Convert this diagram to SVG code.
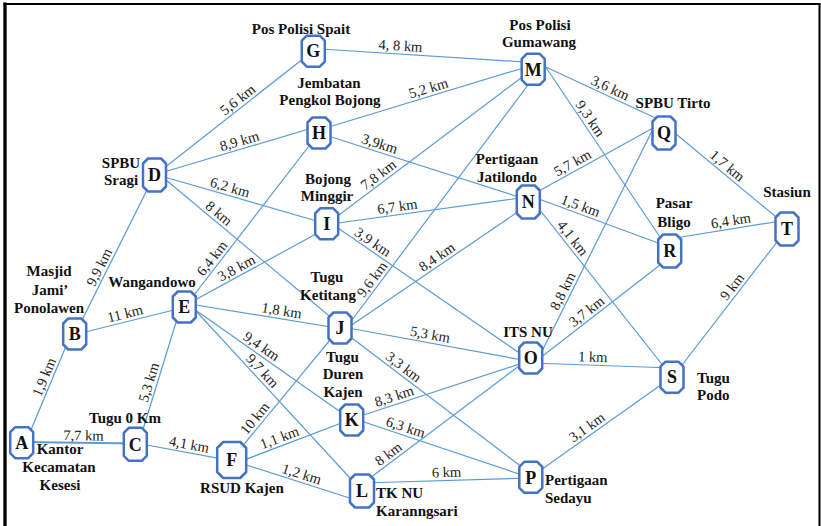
<svg xmlns="http://www.w3.org/2000/svg" width="821" height="526" viewBox="0 0 821 526">
<style>
.e{stroke:#5B9BD5;stroke-width:1.2;fill:none}
.nd{fill:#fff;stroke:#4472C4;stroke-width:2.5;stroke-linejoin:round}
.lt{font-family:"Liberation Serif",serif;font-weight:bold;font-size:18px;fill:#111;text-anchor:middle}
.nm{font-family:"Liberation Serif",serif;font-weight:bold;font-size:15px;fill:#111;text-anchor:middle}
.nl{font-family:"Liberation Serif",serif;font-weight:bold;font-size:15px;fill:#111;text-anchor:start}
.d{font-family:"Liberation Serif",serif;font-size:14.5px;fill:#222;text-anchor:middle}
</style>
<defs>
<polygon id="o1" points="-6.5,-15.5 6.5,-15.5 11.5,-10.5 11.5,10.5 6.5,15.5 -6.5,15.5 -11.5,10.5 -11.5,-10.5"/>
<polygon id="o2" points="-6.5,-16.5 6.5,-16.5 11.5,-11.5 11.5,11.5 6.5,16.5 -6.5,16.5 -11.5,11.5 -11.5,-11.5"/>
<polygon id="o3" points="-8.5,-18 8.5,-18 14.5,-12 14.5,12 8.5,18 -8.5,18 -14.5,12 -14.5,-12"/>
<polygon id="o4" points="-7,-16.5 7,-16.5 12,-11.5 12,11.5 7,16.5 -7,16.5 -12,11.5 -12,-11.5"/>
</defs>
<rect width="821" height="526" fill="#fff"/>
<g id="frame" stroke="#000" fill="none">
<line x1="5" y1="2.5" x2="5" y2="526" stroke-width="3.3"/>
<line x1="3.5" y1="4" x2="820.5" y2="4" stroke-width="2"/>
<line x1="819.5" y1="3" x2="819.5" y2="526" stroke-width="2"/>
</g>
<g id="connectors">
<line class="e" x1="28" y1="437" x2="69" y2="339"/>
<line class="e" x1="21" y1="442" x2="136" y2="443.5" style="stroke-width:2"/>
<line class="e" x1="75" y1="334" x2="154" y2="176"/>
<line class="e" x1="75" y1="334.5" x2="184" y2="307.5"/>
<line class="e" x1="138.5" y1="444" x2="180.4" y2="308"/>
<line class="e" x1="136" y1="443" x2="231" y2="460.7"/>
<line class="e" x1="154" y1="176" x2="313" y2="51"/>
<line class="e" x1="154" y1="175" x2="319" y2="126"/>
<line class="e" x1="154" y1="174" x2="327" y2="224"/>
<line class="e" x1="154" y1="170" x2="340" y2="325"/>
<line class="e" x1="184" y1="308" x2="319" y2="133"/>
<line class="e" x1="184" y1="306" x2="327" y2="228"/>
<line class="e" x1="184" y1="303" x2="340" y2="328.5"/>
<line class="e" x1="184" y1="302" x2="352" y2="420"/>
<line class="e" x1="184" y1="298" x2="362" y2="491"/>
<line class="e" x1="231" y1="460" x2="340" y2="328"/>
<line class="e" x1="231" y1="465" x2="352" y2="419"/>
<line class="e" x1="231" y1="460" x2="362" y2="502"/>
<line class="e" x1="313" y1="48.5" x2="533" y2="62.5"/>
<line class="e" x1="319" y1="130" x2="533" y2="65"/>
<line class="e" x1="319" y1="133" x2="528" y2="200"/>
<line class="e" x1="327" y1="224" x2="533" y2="69"/>
<line class="e" x1="327" y1="224.5" x2="528" y2="197"/>
<line class="e" x1="327" y1="220.5" x2="531" y2="361"/>
<line class="e" x1="346" y1="328" x2="534" y2="77"/>
<line class="e" x1="340" y1="333" x2="528" y2="205"/>
<line class="e" x1="340" y1="326.5" x2="531" y2="361.5"/>
<line class="e" x1="340" y1="329" x2="531" y2="474"/>
<line class="e" x1="352" y1="418.7" x2="531" y2="360.3"/>
<line class="e" x1="352" y1="418" x2="531" y2="478"/>
<line class="e" x1="362" y1="484" x2="531" y2="357"/>
<line class="e" x1="362" y1="483" x2="531" y2="478"/>
<line class="e" x1="533" y1="61" x2="664" y2="122"/>
<line class="e" x1="541" y1="60" x2="664" y2="243"/>
<line class="e" x1="528" y1="197" x2="664" y2="122"/>
<line class="e" x1="528" y1="195" x2="669" y2="247"/>
<line class="e" x1="528" y1="195" x2="672" y2="377"/>
<line class="e" x1="537.6" y1="360" x2="653.5" y2="128"/>
<line class="e" x1="531" y1="365" x2="669" y2="258"/>
<line class="e" x1="531" y1="363" x2="672" y2="368"/>
<line class="e" x1="531" y1="477" x2="672" y2="377"/>
<line class="e" x1="664" y1="124" x2="787" y2="226"/>
<line class="e" x1="669" y1="239" x2="787" y2="220"/>
<line class="e" x1="672" y1="378" x2="787" y2="229"/>
</g>
<g id="edge-labels">
<text class="d" transform="translate(51.7,380.2) rotate(-67.3)" y="-3.5">1,9 km</text>
<text class="d" transform="translate(83.3,442.8) rotate(0.75)" y="-2.5">7,7 km</text>
<text class="d" transform="translate(106.6,270.9) rotate(-63.4)" y="-3.5">9,9 km</text>
<text class="d" transform="translate(127.1,321.6) rotate(-13.9)" y="-3.5">11 km</text>
<text class="d" transform="translate(156.7,384.8) rotate(-72.9)" y="-3.5">5,3 km</text>
<text class="d" transform="translate(187.6,452.6) rotate(10.55)" y="-3.5">4,1 km</text>
<text class="d" transform="translate(242.8,106.2) rotate(-38.2)" y="-3.5">5,6 km</text>
<text class="d" transform="translate(241.7,149) rotate(-16.5)" y="-3.5">8,9 km</text>
<text class="d" transform="translate(227.7,195.3) rotate(16.1)" y="-3.5">6,2 km</text>
<text class="d" transform="translate(213.6,219.7) rotate(39.8)" y="-3.5">8 km</text>
<text class="d" transform="translate(218.5,263.3) rotate(-52.35)" y="-3.5">6,4 km</text>
<text class="d" transform="translate(240.4,275.3) rotate(-28.6)" y="-3.5">3,8 km</text>
<text class="d" transform="translate(280.4,318.8) rotate(9.3)" y="-3.5">1,8 km</text>
<text class="d" transform="translate(256.8,353.1) rotate(35.1)" y="-3.5">9,4 km</text>
<text class="d" transform="translate(256.3,376.4) rotate(47.3)" y="-3.5">9,7 km</text>
<text class="d" transform="translate(261.2,423.5) rotate(-50.45)" y="-3.5">10 km</text>
<text class="d" transform="translate(282.4,445.4) rotate(-20.8)" y="-3.5">1,1 km</text>
<text class="d" transform="translate(299.2,481.9) rotate(17.8)" y="-3.5">1,2 km</text>
<text class="d" transform="translate(400,54) rotate(3.6)" y="-3.5">4, 8 km</text>
<text class="d" transform="translate(430.7,96.1) rotate(-16.9)" y="-3.5">5,2 km</text>
<text class="d" transform="translate(377.2,151.7) rotate(17.8)" y="-3.5">3,9km</text>
<text class="d" transform="translate(383.4,181.5) rotate(-37)" y="-3.5">7,8 km</text>
<text class="d" transform="translate(398.5,214.7) rotate(-7.8)" y="-3.5">6,7 km</text>
<text class="d" transform="translate(368.1,248.8) rotate(34.6)" y="-3.5">3,9 km</text>
<text class="d" transform="translate(378.7,284.3) rotate(-53.2)" y="-3.5">9,6 km</text>
<text class="d" transform="translate(441.5,263.9) rotate(-34.25)" y="-3.5">8,4 km</text>
<text class="d" transform="translate(428.6,342.7) rotate(10.4)" y="-3.5">5,3 km</text>
<text class="d" transform="translate(398.6,373.5) rotate(37.2)" y="-3.5">3,3 km</text>
<text class="d" transform="translate(396.7,404.1) rotate(-18.1)" y="-3.5">8,3 km</text>
<text class="d" transform="translate(403,435.1) rotate(18.5)" y="-3.5">6,3 km</text>
<text class="d" transform="translate(393.3,460.5) rotate(-36.9)" y="-3.5">8 km</text>
<text class="d" transform="translate(446.7,480.5) rotate(-1.7)" y="-3.5">6 km</text>
<text class="d" transform="translate(606.8,95.4) rotate(25)" y="-3.5">3,6 km</text>
<text class="d" transform="translate(583.4,123.1) rotate(56.1)" y="-3.5">9,3 km</text>
<text class="d" transform="translate(576.5,170.2) rotate(-28.9)" y="-3.5">5,7 km</text>
<text class="d" transform="translate(577.8,213.4) rotate(20.2)" y="-3.5">1,5 km</text>
<text class="d" transform="translate(566.2,243.3) rotate(51.65)" y="-3.5">4,1 km</text>
<text class="d" transform="translate(570.2,294.7) rotate(-63.45)" y="-3.5">8,8 km</text>
<text class="d" transform="translate(591.7,317.9) rotate(-37.8)" y="-3.5">3,7 km</text>
<text class="d" transform="translate(592.5,365.2) rotate(2)" y="-3.5">1 km</text>
<text class="d" transform="translate(591.6,434) rotate(-35.3)" y="-3.5">3,1 km</text>
<text class="d" transform="translate(722,172.1) rotate(39.7)" y="-3.5">1,7 km</text>
<text class="d" transform="translate(732.1,228.8) rotate(-9.15)" y="-3.5">6,4 km</text>
<text class="d" transform="translate(738.6,291.7) rotate(-52.3)" y="-3.5">9 km</text>
</g>
<g id="node-A"><use href="#o1" class="nd" x="21.7" y="442.7"/><text class="lt" x="21.7" y="448.9">A</text><text class="nm" x="60" y="454">Kantor</text><text class="nm" x="59" y="472">Kecamatan</text><text class="nm" x="60" y="490">Kesesi</text></g>
<g id="node-B"><use href="#o1" class="nd" x="74.7" y="334"/><text class="lt" x="74.7" y="340.2">B</text><text class="nm" x="49" y="276">Masjid</text><text class="nm" x="50" y="295">Jami’</text><text class="nm" x="49" y="313">Ponolawen</text></g>
<g id="node-C"><use href="#o2" class="nd" x="135.3" y="444.3"/><text class="lt" x="135.3" y="450.5">C</text><text class="nm" x="125" y="423">Tugu 0 Km</text></g>
<g id="node-D"><use href="#o2" class="nd" x="154.5" y="175"/><text class="lt" x="154.5" y="181.2">D</text><text class="nm" x="121" y="168">SPBU</text><text class="nm" x="121" y="185">Sragi</text></g>
<g id="node-E"><use href="#o1" class="nd" x="184.3" y="307"/><text class="lt" x="184.3" y="313.2">E</text><text class="nm" x="152" y="287">Wangandowo</text></g>
<g id="node-F"><use href="#o3" class="nd" x="231.7" y="460"/><text class="lt" x="231.7" y="466.2">F</text><text class="nm" x="242" y="493">RSUD Kajen</text></g>
<g id="node-G"><use href="#o1" class="nd" x="313.3" y="51.2"/><text class="lt" x="313.3" y="57.4">G</text><text class="nm" x="301" y="34">Pos Polisi Spait</text></g>
<g id="node-H"><use href="#o1" class="nd" x="319" y="133"/><text class="lt" x="319" y="139.2">H</text><text class="nm" x="329" y="88">Jembatan</text><text class="nm" x="330" y="105">Pengkol Bojong</text></g>
<g id="node-I"><use href="#o1" class="nd" x="326.7" y="223.8"/><text class="lt" x="326.7" y="230">I</text><text class="nm" x="328" y="183.5">Bojong</text><text class="nm" x="327" y="200.5">Minggir</text></g>
<g id="node-J"><use href="#o1" class="nd" x="340" y="328"/><text class="lt" x="340" y="334.2">J</text><text class="nm" x="327" y="282">Tugu</text><text class="nm" x="328" y="300">Ketitang</text></g>
<g id="node-K"><use href="#o1" class="nd" x="351.7" y="420"/><text class="lt" x="351.7" y="426.2">K</text><text class="nm" x="342.5" y="362">Tugu</text><text class="nm" x="343" y="379">Duren</text><text class="nm" x="343" y="397">Kajen</text></g>
<g id="node-L"><use href="#o4" class="nd" x="362" y="491"/><text class="lt" x="362" y="497.2">L</text><text class="nl" x="376" y="498">TK NU</text><text class="nl" x="376" y="516">Karanngsari</text></g>
<g id="node-M"><use href="#o1" class="nd" x="533.2" y="69.3"/><text class="lt" x="533.2" y="75.5">M</text><text class="nm" x="540" y="30">Pos Polisi</text><text class="nm" x="539" y="47">Gumawang</text></g>
<g id="node-N"><use href="#o2" class="nd" x="528.3" y="202"/><text class="lt" x="528.3" y="208.2">N</text><text class="nm" x="507" y="163.5">Pertigaan</text><text class="nm" x="507" y="182">Jatilondo</text></g>
<g id="node-O"><use href="#o1" class="nd" x="530.7" y="358"/><text class="lt" x="530.7" y="364.2">O</text><text class="nm" x="528" y="337">ITS NU</text></g>
<g id="node-P"><use href="#o1" class="nd" x="530.8" y="477.3"/><text class="lt" x="530.8" y="483.5">P</text><text class="nl" x="545" y="485">Pertigaan</text><text class="nl" x="545" y="503">Sedayu</text></g>
<g id="node-Q"><use href="#o2" class="nd" x="664" y="133"/><text class="lt" x="664" y="139.2">Q</text><text class="nm" x="673" y="108">SPBU Tirto</text></g>
<g id="node-R"><use href="#o2" class="nd" x="669.7" y="251"/><text class="lt" x="669.7" y="257.2">R</text><text class="nm" x="674" y="208">Pasar</text><text class="nm" x="674" y="226.5">Bligo</text></g>
<g id="node-S"><use href="#o1" class="nd" x="672" y="377.2"/><text class="lt" x="672" y="383.4">S</text><text class="nl" x="697" y="383">Tugu</text><text class="nl" x="697" y="400">Podo</text></g>
<g id="node-T"><use href="#o2" class="nd" x="787" y="229"/><text class="lt" x="787" y="235.2">T</text><text class="nm" x="787" y="197">Stasiun</text></g>
</svg>
